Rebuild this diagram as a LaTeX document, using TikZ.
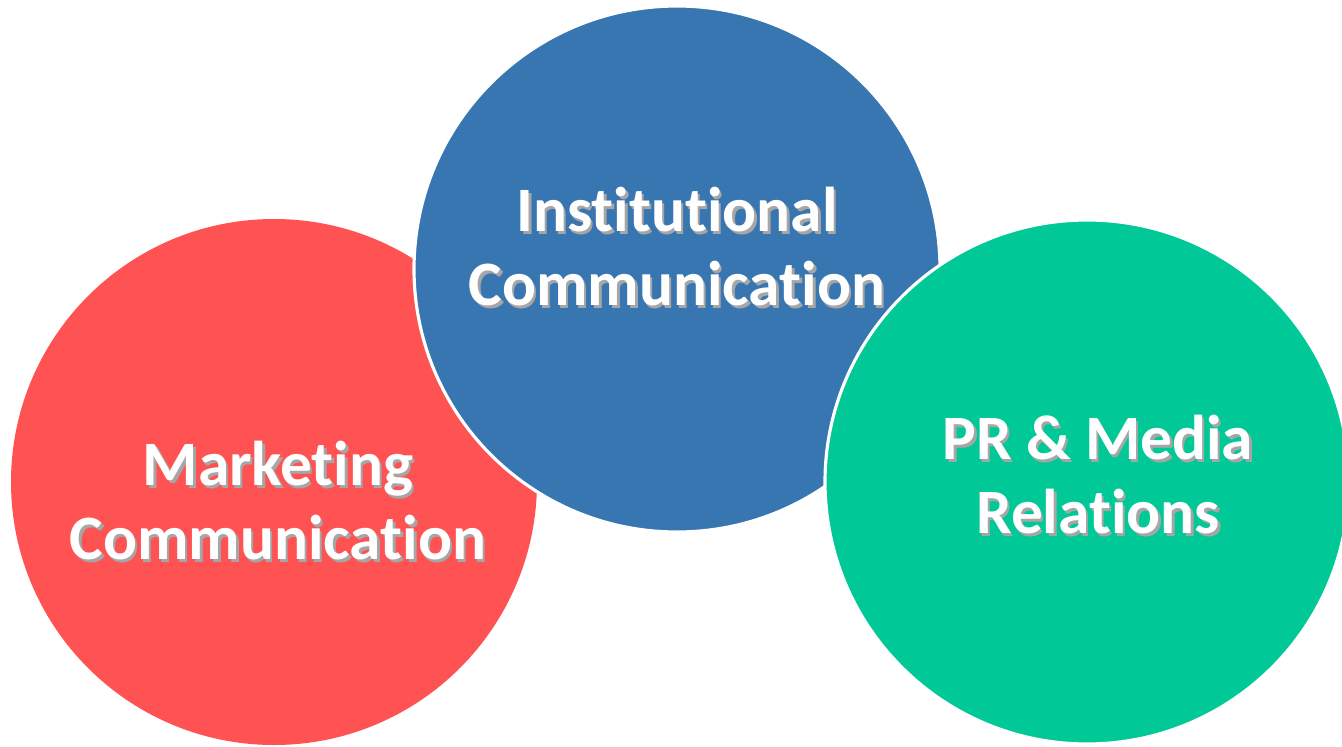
\documentclass[tikz,border=0pt]{standalone}
\usepackage{fontspec}
\setmainfont{Carlito}[Ligatures={NoCommon}]
\usepackage{xcolor}
\usepackage{tikz}
\usetikzlibrary{positioning, calc}

\definecolor{mktred}{RGB}{255,82,82}
\definecolor{instblue}{RGB}{55,118,177}
\definecolor{prgreen}{RGB}{0,201,151}

% white text with a soft drop shadow
\newcommand{\shtxt}[1]{\leavevmode\rlap{\kern1.4pt\raisebox{-1.4pt}{\color{black!35}#1}}#1}

\begin{document}
\begin{tikzpicture}[
    bubble/.style={circle, inner sep=0pt, minimum size=10.52cm},
    rim/.style={draw=white, line width=1.8pt},
    caption/.style={align=center, text=white, font=\fontsize{36}{42}\selectfont\bfseries}
]
    \clip (0,0) rectangle (26.84,-14.92);
    \fill[white] (0,0) rectangle (26.84,-14.92);

    \node[bubble, fill=mktred] (mkt) at (5.48,-9.64) {};
    \node[bubble, rim, fill=instblue] (inst) at (13.54,-5.38) {};
    \node[bubble, rim, fill=prgreen, minimum size=10.48cm] (pr) at (21.74,-9.64) {};

    \node[caption] (mkttxt) at ($(mkt.center)+(0.08,-0.4)$) {\shtxt{Marketing}\\\shtxt{Communication}};
    \node[caption] (insttxt) at ($(inst.center)+(0,0.42)$) {\shtxt{Institutional}\\\shtxt{Communication}};
    \node[caption] (prtxt) at ($(pr.center)+(0.22,0.12)$) {\shtxt{PR \& Media}\\\shtxt{Relations}};
\end{tikzpicture}
\end{document}
